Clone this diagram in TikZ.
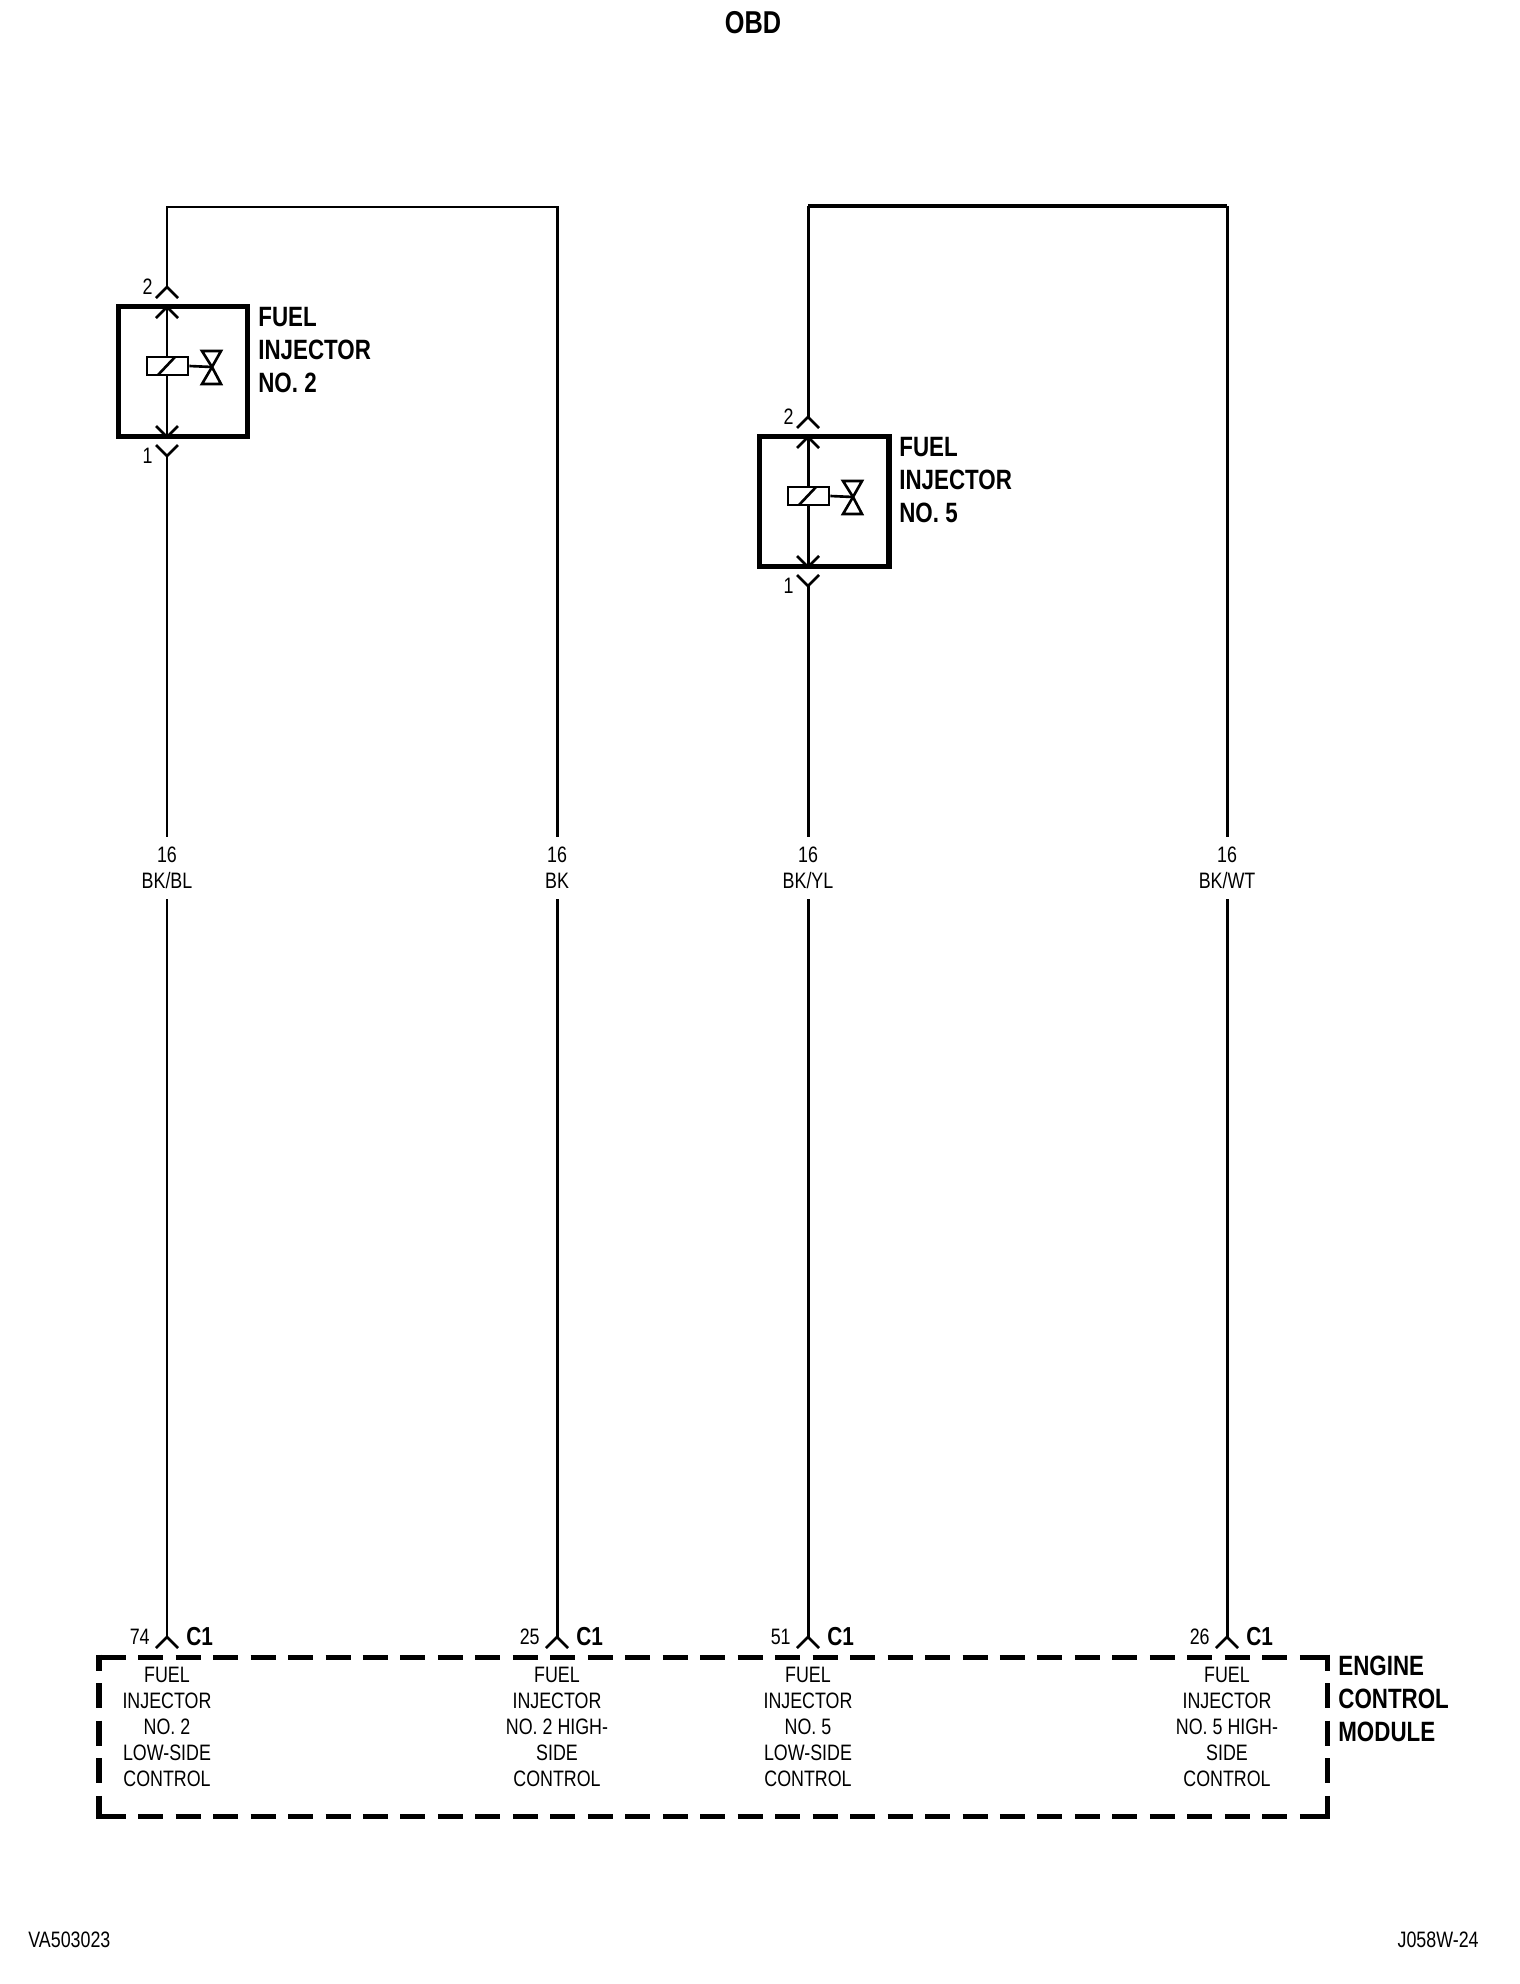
\documentclass[tikz,border=0pt]{standalone}
\usepackage{fontspec}
\usetikzlibrary{positioning}
\newfontfamily\wirefont[FakeStretch=0.8]{Liberation Sans}
\newcommand\pinup[1]{\draw[pin line,shift={(#1)}] (-11,11) -- (0,0) -- (11,11);}
\newcommand\pindown[1]{\draw[pin line,shift={(#1)}] (-11,-11) -- (0,0) -- (11,-11);}
\begin{document}
\begin{tikzpicture}[x=0.02cm,y=-0.02cm,line join=miter]
        % Styles
        \tikzstyle{wire}=[line width=1.7pt]
        \tikzstyle{heavy wire}=[line width=2.6pt]
        \tikzstyle{pin line}=[line width=1.5pt]
        \tikzstyle{part box}=[draw,line width=2.85pt,inner sep=0pt,minimum width=2.6cm,minimum height=2.62cm]
        \tikzstyle{small text}=[inner sep=0pt,font=\wirefont\fontsize{12.7}{14.8}\selectfont]
        \tikzstyle{wire label}=[small text,align=center,minimum height=1.24cm]
        \tikzstyle{name text}=[inner sep=0pt,align=left,anchor=west,font=\wirefont\bfseries\fontsize{15.9}{18.6}\selectfont]
        \tikzstyle{ecm line}=[line width=2.85pt,dash pattern=on 0.5cm off 0.25cm]
        \useasboundingbox (0,0) rectangle (1520,1984);
        % Title and drawing numbers
        \node[inner sep=0pt,font=\wirefont\bfseries\fontsize{18}{20}\selectfont] (title) at (753,23) {OBD};
        \node[small text,anchor=west] (code left) at (28,1940) {VA503023};
        \node[small text,anchor=east] (code right) at (1479,1940) {J058W-24};
        % Injectors
        \foreach \inj/\dx/\dy in {2/0/0,5/641/130}
        {
            \begin{scope}[shift={(\dx,\dy)}]
                \coordinate (inj\inj-pin2) at (167,287);
                \coordinate (inj\inj-in2) at (167,307);
                \coordinate (inj\inj-in1) at (167,437);
                \coordinate (inj\inj-pin1) at (167,456);
                \coordinate (inj\inj-valve) at (212,367);
                \draw[wire] (inj\inj-in2) -- (inj\inj-in1);
                \node[part box] (inj\inj-box) at (183,371.5) {};
                \node[draw,fill=white,line width=1.5pt,inner sep=0pt,minimum width=0.82cm,minimum height=0.36cm] (inj\inj-coil) at (167.5,366) {};
                \draw[pin line] (158,375) -- (175,357);
                \draw[pin line] (inj\inj-coil.east) -- (inj\inj-valve);
                \draw[pin line] (inj\inj-valve) -- (202,351) -- (221,351) -- (inj\inj-valve) -- (221,384) -- (202,384) -- cycle;
                \pinup{inj\inj-pin2}
                \pinup{inj\inj-in2}
                \pindown{inj\inj-in1}
                \pindown{inj\inj-pin1}
                \node[small text,left=0.28cm] (inj\inj-num2) at (inj\inj-pin2) {2};
                \node[small text,left=0.28cm] (inj\inj-num1) at (inj\inj-pin1) {1};
                \node[name text] (inj\inj-name) at (258,350) {FUEL\\INJECTOR\\NO. \inj};
            \end{scope}
        }
        % Engine control module pins
        \foreach \pin/\xw/\wcol/\func in {74/167/{BK/BL}/{FUEL\\INJECTOR\\NO. 2\\LOW-SIDE\\CONTROL},
            25/557/{BK}/{FUEL\\INJECTOR\\NO. 2 HIGH-\\SIDE\\CONTROL},
            51/808/{BK/YL}/{FUEL\\INJECTOR\\NO. 5\\LOW-SIDE\\CONTROL},
            26/1227/{BK/WT}/{FUEL\\INJECTOR\\NO. 5 HIGH-\\SIDE\\CONTROL}}
        {
            \coordinate (pin\pin) at (\xw,1637);
            \pinup{pin\pin}
            \node[small text,left=0.34cm] (num\pin) at (pin\pin) {\pin};
            \node[name text,font=\wirefont\bfseries\fontsize{14.8}{16}\selectfont,right=0.38cm] (conn\pin) at (pin\pin) {C1};
            \node[wire label] (lab\pin) at (\xw,868) {16\\\wcol};
            \node[small text,align=center] (func\pin) at (\xw,1727) {\func};
            \draw[wire] (lab\pin.south) -- (pin\pin);
        }
        % Wires
        \coordinate (top a) at (167,207);
        \coordinate (top b) at (808,206);
        \coordinate (top c) at (1227,206);
        \draw[wire] (inj2-pin1) -- (lab74.north);
        \draw[wire] (inj5-pin1) -- (lab51.north);
        \draw[wire] (inj2-pin2) -- (top a) -| (lab25.north);
        \draw[wire] (inj5-pin2) -- (top b);
        \draw[heavy wire] (top b) -- (top c);
        \draw[wire] (top c) -- (lab26.north);
        % Engine control module
        \coordinate (ecm nw) at (99,1657);
        \coordinate (ecm ne) at (1327,1657);
        \coordinate (ecm sw) at (99,1816);
        \coordinate (ecm se) at (1327,1816);
        \draw[ecm line,dash pattern=on 25*0.02cm off 12.47*0.02cm] ([xshift=0.034cm]ecm nw) -- (ecm ne);
        \draw[ecm line,dash pattern=on 25*0.02cm off 12.47*0.02cm] ([xshift=0.034cm]ecm sw) -- (ecm se);
        \draw[ecm line,dash pattern=on 25*0.02cm off 12.6*0.02cm,dash phase=9*0.02cm] ([yshift=0.05cm]ecm nw) -- ([yshift=-0.05cm]ecm sw);
        \draw[ecm line,dash pattern=on 25*0.02cm off 12.6*0.02cm,dash phase=9*0.02cm] ([yshift=0.05cm]ecm ne) -- ([yshift=-0.05cm]ecm se);
        \node[name text] (ecm name) at (1338,1699) {ENGINE\\CONTROL\\MODULE};
    \end{tikzpicture}
\end{document}
